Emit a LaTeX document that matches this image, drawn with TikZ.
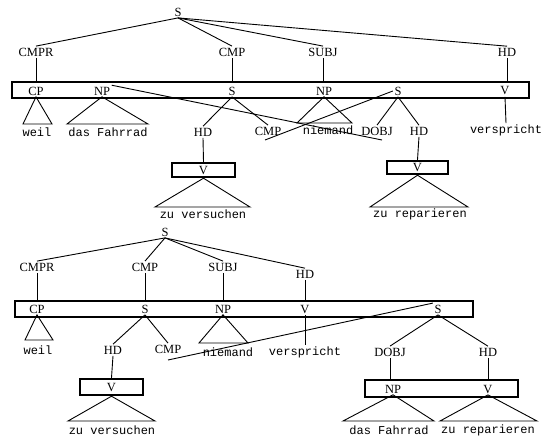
\documentclass[tikz,border=0pt]{standalone}
\usepackage{fontspec}
\setmainfont{Liberation Serif}
\newfontfamily\leaffont{Liberation Mono}
\begin{document}
\begin{tikzpicture}[x=1pt,y=-1pt,
  lab/.style={inner sep=1.5pt,font=\fontsize{12.5}{13}\selectfont},
  leaf/.style={inner sep=1pt,font=\leaffont\fontsize{12}{13}\selectfont},
  tbox/.style={draw,line width=2.4pt,inner sep=0pt},
  conn/.style={line width=0.9pt},
  ]
\useasboundingbox (0,0) rectangle (543,439);

% ================= top tree =================
\node[lab] (s0) at (178,12) {S};
\node[lab] (cmpr1) at (36,52) {CMPR};
\node[lab] (cmp1) at (232,52) {CMP};
\node[lab] (subj1) at (323,52) {SUBJ};
\node[lab] (hd1) at (507,52) {HD};
\draw[conn] (s0.south) -- (cmpr1.north);
\draw[conn] (s0.south) -- (cmp1.north);
\draw[conn] (s0.south) -- (subj1.north);
\draw[conn] (s0.south) -- (hd1.north);

\node[tbox, minimum width=517pt, minimum height=16pt] (b1) at (270.5,90) {};
\draw[conn] (cmpr1.south) -- (cmpr1.south |- b1.north);
\draw[conn] (cmp1.south) -- (cmp1.south |- b1.north);
\draw[conn] (subj1.south) -- (subj1.south |- b1.north);
\draw[conn] (hd1.south) -- (hd1.south |- b1.north);

\node[lab] (cp1) at (36,91) {CP};
\node[lab] (np1) at (102,91) {NP};
\node[lab] (si1) at (232,91) {S};
\node[lab] (np2) at (324,91) {NP};
\node[lab] (si2) at (398,91) {S};
\node[lab] (v1) at (505,91) {V};

\draw[conn] (cp1.south) -- (23,124) -- (52,124) -- cycle;
\node[leaf] (w1) at (37,132) {weil};
\draw[conn] (np1.south) -- (67,124) -- (148,124) -- cycle;
\node[leaf] (df1) at (108,132) {das Fahrrad};

\node[lab] (hd2) at (203,132) {HD};
\node[lab] (cmp2) at (268,131) {CMP};
\draw[conn] (si1.south) -- (hd2.north);
\draw[conn] (si1.south) -- (cmp2.north);
\node[tbox, minimum width=63pt, minimum height=14pt] (vb1) at (203.5,170) {};
\node[lab] (v2) at (vb1) {V};
\draw[conn] (hd2.south) -- (vb1.north);
\draw[conn] (vb1.south) -- (155,207) -- (250,207) -- cycle;
\node[leaf] (zv1) at (203,214) {zu versuchen};

\draw[conn] (np2.south) -- (297,123) -- (352,123) -- cycle;
\node[leaf] (ni1) at (328,130) {niemand};

\node[lab] (dobj1) at (377,131) {DOBJ};
\node[lab] (hd3) at (419,131) {HD};
\draw[conn] (si2.south) -- (dobj1.north);
\draw[conn] (si2.south) -- (hd3.north);
\node[tbox, minimum width=61pt, minimum height=13pt] (vb2) at (417.5,167.5) {};
\node[lab] (v3) at (vb2) {V};
\draw[conn] (hd3.south) -- (vb2.north);
\draw[conn] (vb2.south) -- (370,207) -- (468,207) -- cycle;
\node[leaf] (zr1) at (420,214) {zu reparieren};

\node[leaf] (vs1) at (506,130) {verspricht};
\draw[conn] (v1.south) -- (vs1.north);

\coordinate (e1) at (382,140);
\draw[conn] (np1.north east) -- (e1);
\coordinate (e2) at (265,140);
\draw[conn] (si2.west) -- (e2);

% ================= bottom tree =================
\node[lab] (s5) at (165,232) {S};
\node[lab] (cmpr5) at (37,267) {CMPR};
\node[lab] (cmp5) at (145,267) {CMP};
\node[lab] (subj5) at (223,267) {SUBJ};
\node[lab] (hd5) at (305,274) {HD};
\draw[conn] (s5.south) -- (cmpr5.north);
\draw[conn] (s5.south) -- (cmp5.north);
\draw[conn] (s5.south) -- (subj5.north);
\draw[conn] (s5.south) -- (hd5.north);

\node[tbox, minimum width=458pt, minimum height=16pt] (b2) at (244,309) {};
\draw[conn] (cmpr5.south) -- (cmpr5.south |- b2.north);
\draw[conn] (cmp5.south) -- (cmp5.south |- b2.north);
\draw[conn] (subj5.south) -- (subj5.south |- b2.north);
\draw[conn] (hd5.south) -- (hd5.south |- b2.north);

\node[lab] (cp5) at (37,309) {CP};
\node[lab] (si5) at (145,309) {S};
\node[lab] (np5) at (223,309) {NP};
\node[lab] (v5) at (305,309) {V};
\node[lab] (si6) at (438,309) {S};

\draw[conn] (cp5.south) -- (25,340) -- (53,340) -- cycle;
\node[leaf] (w5) at (38,350) {weil};

\node[lab] (hd6) at (113,350) {HD};
\node[lab] (cmp6) at (168,349) {CMP};
\draw[conn] (si5.south) -- (hd6.north);
\draw[conn] (si5.south) -- (cmp6.north);
\node[tbox, minimum width=63pt, minimum height=16pt] (vb5) at (111.5,387) {};
\node[lab] (v6) at (vb5) {V};
\draw[conn] (hd6.south) -- (vb5.north);
\draw[conn] (vb5.south) -- (68,421) -- (155,421) -- cycle;
\node[leaf] (zv5) at (112,430) {zu versuchen};

\draw[conn] (np5.south) -- (199,343) -- (248,343) -- cycle;
\node[leaf] (ni5) at (228,352) {niemand};

\node[leaf] (vs5) at (305,352) {verspricht};
\draw[conn] (v5.south) -- (vs5.north);

\node[lab] (dobj6) at (390,352) {DOBJ};
\node[lab] (hd7) at (488,352) {HD};
\draw[conn] (si6.south) -- (dobj6.north);
\draw[conn] (si6.south) -- (hd7.north);

\node[tbox, minimum width=153pt, minimum height=17pt] (b3) at (441.5,388.5) {};
\draw[conn] (dobj6.south) -- (dobj6.south |- b3.north);
\draw[conn] (hd7.south) -- (hd7.south |- b3.north);
\node[lab] (np7) at (393,389) {NP};
\node[lab] (v7) at (488,389) {V};
\draw[conn] (np7.south) -- (343,421) -- (434,421) -- cycle;
\draw[conn] (v7.south) -- (440,421) -- (537,421) -- cycle;
\node[leaf] (df7) at (389,430) {das Fahrrad};
\node[leaf] (zr7) at (488,430) {zu reparieren};

\coordinate (e5) at (168,360);
\draw[conn] (si6.north west) -- (e5);
\end{tikzpicture}
\end{document}
